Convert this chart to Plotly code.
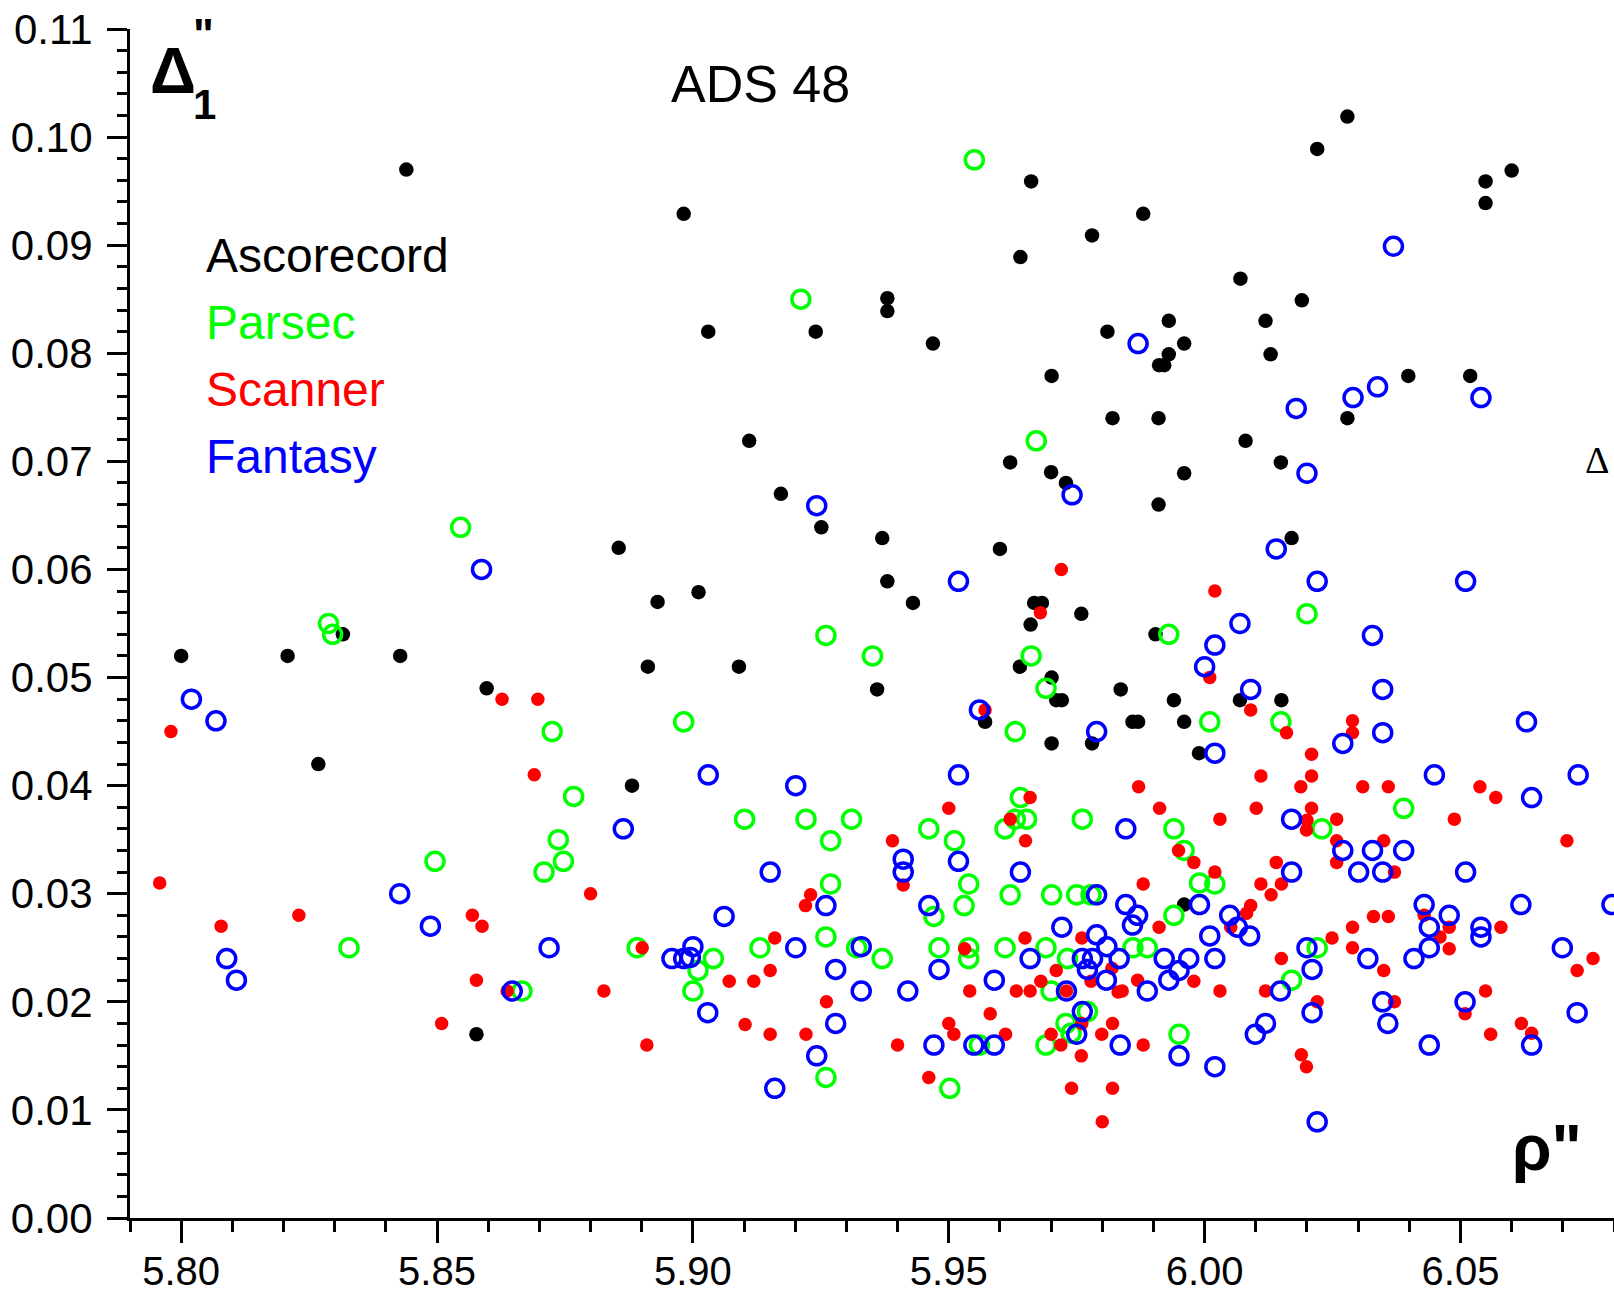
import plotly.graph_objects as go

# ---------------- data ----------------
asc_x = [5.8000, 5.8208, 5.8316, 5.8428, 5.8268, 5.8597, 5.8577, 5.8440,
         5.8855, 5.8881, 5.8912, 5.8931, 5.8982, 5.9011, 5.9030, 5.9090, 5.9110, 5.9172,
         5.9240, 5.9251, 5.9360, 5.9370, 5.9380, 5.9380, 5.9380, 5.9430, 5.9469,
         5.9571, 5.9600, 5.9620, 5.9639, 5.9640, 5.9661, 5.9660, 5.9667, 5.9682, 5.9700,
         5.9701, 5.9701, 5.9701, 5.9710, 5.9721, 5.9729, 5.9759, 5.9780, 5.9780, 5.9810,
         5.9820, 5.9836, 5.9859, 5.9870, 5.9880, 5.9904, 5.9910, 5.9910, 5.9911, 5.9921,
         5.9930, 5.9930, 5.9940, 5.9960, 5.9960, 5.9960, 5.9960, 5.9989, 6.0069, 6.0070,
         6.0080, 6.0119, 6.0129, 6.0149, 6.0150, 6.0170, 6.0190, 6.0220, 6.0279, 6.0279,
         6.0398, 6.0519, 6.0549, 6.0549, 6.0600]
asc_y = [0.0520, 0.0520, 0.0540, 0.0520, 0.0420, 0.0490, 0.0170, 0.0970,
         0.0620, 0.0400, 0.0510, 0.0570, 0.0929, 0.0579, 0.0820, 0.0510, 0.0719, 0.0670,
         0.0820, 0.0639, 0.0489, 0.0629, 0.0851, 0.0839, 0.0589, 0.0569, 0.0809,
         0.0459, 0.0619, 0.0699, 0.0510, 0.0889, 0.0959, 0.0549, 0.0569, 0.0569, 0.0690,
         0.0779, 0.0500, 0.0439, 0.0479, 0.0479, 0.0680, 0.0559, 0.0909, 0.0439, 0.0820,
         0.0740, 0.0489, 0.0459, 0.0459, 0.0929, 0.0540, 0.0740, 0.0660, 0.0789, 0.0789,
         0.0830, 0.0799, 0.0479, 0.0809, 0.0689, 0.0459, 0.0290, 0.0430, 0.0479, 0.0869,
         0.0719, 0.0830, 0.0799, 0.0699, 0.0479, 0.0629, 0.0849, 0.0989, 0.1019, 0.0740,
         0.0779, 0.0779, 0.0959, 0.0939, 0.0969]

par_x = [5.8288, 5.8296, 5.8328, 5.8496, 5.8546, 5.8666, 5.8725, 5.8767, 5.8737, 5.8747, 5.8709,
         5.8891, 5.8982, 5.9000, 5.9010, 5.9040, 5.9101, 5.9131, 5.9211, 5.9221, 5.9260, 5.9260,
         5.9260, 5.9269, 5.9269, 5.9310, 5.9320, 5.9351, 5.9370, 5.9461, 5.9471, 5.9481, 5.9502,
         5.9511, 5.9530, 5.9539, 5.9539, 5.9539, 5.9550, 5.9560, 5.9610, 5.9610, 5.9620, 5.9630,
         5.9630, 5.9640, 5.9652, 5.9661, 5.9671, 5.9690, 5.9690, 5.9690, 5.9700, 5.9701, 5.9729,
         5.9732, 5.9739, 5.9750, 5.9761, 5.9771, 5.9778,
         5.9860, 5.9888, 5.9930, 5.9940, 5.9940, 5.9950, 5.9960, 5.9990, 6.0010, 6.0020, 6.0149,
         6.0170, 6.0200, 6.0220, 6.0229, 6.0389]
par_y = [0.0550, 0.0540, 0.0250, 0.0330, 0.0639, 0.0210, 0.0450, 0.0390, 0.0350, 0.0330, 0.0320,
         0.0250, 0.0459, 0.0210, 0.0229, 0.0240, 0.0369, 0.0250, 0.0850, 0.0369, 0.0539, 0.0260,
         0.0130, 0.0349, 0.0309, 0.0369, 0.0250, 0.0520, 0.0240, 0.0360, 0.0279, 0.0250, 0.0120,
         0.0349, 0.0289, 0.0309, 0.0250, 0.0240, 0.0979, 0.0160, 0.0360, 0.0250, 0.0299, 0.0450,
         0.0369, 0.0389, 0.0369, 0.0520, 0.0719, 0.0490, 0.0250, 0.0160, 0.0210, 0.0299, 0.0180,
         0.0240, 0.0171, 0.0299, 0.0369, 0.0191, 0.0299,
         0.0250, 0.0250, 0.0540, 0.0360, 0.0280, 0.0170, 0.0340, 0.0310, 0.0459, 0.0309, 0.0459,
         0.0220, 0.0559, 0.0250, 0.0360, 0.0379]

scn_x = [5.7980, 5.7958, 5.8078, 5.8230, 5.8509, 5.8569, 5.8588, 5.8577, 5.8627, 5.8697, 5.8690,
         5.8800, 5.8826, 5.8637,
         5.8901, 5.8910, 5.9071, 5.9102, 5.9119, 5.9151, 5.9151, 5.9160, 5.9220, 5.9221, 5.9230,
         5.9261, 5.9390, 5.9400, 5.9411, 5.9461, 5.9500, 5.9500, 5.9510, 5.9531, 5.9541, 5.9571,
         5.9581, 5.9611, 5.9620, 5.9632, 5.9649, 5.9650, 5.9659, 5.9659, 5.9679, 5.9680, 5.9700,
         5.9710, 5.9719, 5.9720, 5.9730, 5.9740, 5.9759, 5.9760, 5.9760, 5.9778, 5.9799, 5.9800,
         5.9819, 5.9820, 5.9820, 5.9831,
         5.9839, 5.9869, 5.9871, 5.9880, 5.9880, 5.9911, 5.9912, 5.9949, 5.9979, 5.9979, 6.0010,
         6.0020, 6.0020, 6.0030, 6.0030, 6.0051, 6.0082, 6.0090, 6.0090, 6.0101, 6.0110, 6.0110,
         6.0119, 6.0130, 6.0140, 6.0150, 6.0150, 6.0160, 6.0188, 6.0189, 6.0199, 6.0199, 6.0200,
         6.0209, 6.0209, 6.0209, 6.0220, 6.0249, 6.0258, 6.0258, 6.0258, 6.0289, 6.0289, 6.0289,
         6.0289, 6.0309, 6.0330, 6.0350, 6.0350, 6.0359, 6.0359, 6.0371, 6.0371, 6.0429, 6.0460,
         6.0478, 6.0478, 6.0488, 6.0509, 6.0538, 6.0549, 6.0559, 6.0569, 6.0579, 6.0619, 6.0639,
         6.0708, 6.0728, 6.0759]
scn_y = [0.0450, 0.0310, 0.0270, 0.0280, 0.0180, 0.0280, 0.0270, 0.0220, 0.0480, 0.0480, 0.0410,
         0.0300, 0.0210, 0.0210,
         0.0250, 0.0160, 0.0219, 0.0179, 0.0219, 0.0229, 0.0170, 0.0259, 0.0289, 0.0170, 0.0299,
         0.0200, 0.0349, 0.0160, 0.0308, 0.0130, 0.0379, 0.0180, 0.0170, 0.0249, 0.0210, 0.0470,
         0.0189, 0.0170, 0.0369, 0.0210, 0.0259, 0.0349, 0.0389, 0.0210, 0.0560, 0.0219, 0.0170,
         0.0229, 0.0160, 0.0600, 0.0210, 0.0120, 0.0150, 0.0259, 0.0180, 0.0219, 0.0170, 0.0089,
         0.0231, 0.0180, 0.0120, 0.0209,
         0.0210, 0.0220, 0.0399, 0.0309, 0.0160, 0.0269, 0.0379, 0.0340, 0.0329, 0.0219, 0.0500,
         0.0580, 0.0320, 0.0369, 0.0210, 0.0269, 0.0282, 0.0470, 0.0289, 0.0379, 0.0409, 0.0309,
         0.0210, 0.0299, 0.0329, 0.0309, 0.0240, 0.0449, 0.0399, 0.0151, 0.0359, 0.0140, 0.0368,
         0.0429, 0.0409, 0.0379, 0.0200, 0.0259, 0.0369, 0.0349, 0.0329, 0.0460, 0.0449, 0.0269,
         0.0250, 0.0399, 0.0279, 0.0349, 0.0229, 0.0399, 0.0279, 0.0320, 0.0200, 0.0280, 0.0260,
         0.0269, 0.0249, 0.0369, 0.0189, 0.0399, 0.0210, 0.0170, 0.0389, 0.0269, 0.0180, 0.0171,
         0.0349, 0.0229, 0.0240]

fan_x = [5.8020, 5.8068, 5.8089, 5.8108, 5.8427, 5.8487, 5.8587, 5.8647, 5.8719, 5.8864,
         5.8959, 5.8982, 5.8995, 5.9000, 5.9029, 5.9030, 5.9061, 5.9151, 5.9160, 5.9201, 5.9201,
         5.9242, 5.9242, 5.9260, 5.9279, 5.9279, 5.9329, 5.9329, 5.9411, 5.9411, 5.9420, 5.9461,
         5.9471, 5.9481, 5.9519, 5.9519, 5.9519, 5.9549, 5.9560, 5.9589, 5.9589, 5.9640, 5.9659,
         5.9721, 5.9730, 5.9741, 5.9750, 5.9761, 5.9761, 5.9771, 5.9781, 5.9789, 5.9789, 5.9789,
         5.9808, 5.9809, 5.9835,
         5.9833, 5.9846, 5.9846, 5.9859, 5.9869, 5.9870, 5.9888, 5.9921, 5.9930, 5.9950, 5.9950,
         5.9969, 5.9990, 6.0000, 6.0010, 6.0020, 6.0020, 6.0020, 6.0020, 6.0049, 6.0064, 6.0069,
         6.0088, 6.0090, 6.0099, 6.0119, 6.0140, 6.0148, 6.0170, 6.0170, 6.0179, 6.0200, 6.0200,
         6.0210, 6.0210, 6.0220, 6.0220, 6.0270, 6.0270, 6.0290, 6.0301, 6.0319, 6.0328, 6.0328,
         6.0338, 6.0348, 6.0348, 6.0348, 6.0348, 6.0358, 6.0369, 6.0389, 6.0409, 6.0429, 6.0439,
         6.0439, 6.0439, 6.0449, 6.0478, 6.0509, 6.0510, 6.0510, 6.0540, 6.0540, 6.0540, 6.0618,
         6.0629, 6.0639, 6.0639, 6.0699, 6.0728, 6.0730, 6.0796]
fan_y = [0.0480, 0.0460, 0.0240, 0.0220, 0.0300, 0.0270, 0.0600, 0.0210, 0.0250, 0.0360,
         0.0240, 0.0240, 0.0241, 0.0251, 0.0190, 0.0410, 0.0279, 0.0320, 0.0120, 0.0400, 0.0250,
         0.0659, 0.0150, 0.0289, 0.0230, 0.0180, 0.0251, 0.0210, 0.0332, 0.0320, 0.0210, 0.0289,
         0.0160, 0.0230, 0.0589, 0.0410, 0.0330, 0.0160, 0.0470, 0.0220, 0.0160, 0.0320, 0.0240,
         0.0269, 0.0210, 0.0669, 0.0170, 0.0240, 0.0191, 0.0230, 0.0240, 0.0450, 0.0299, 0.0262,
         0.0220, 0.0251, 0.0160,
         0.0240, 0.0360, 0.0290, 0.0271, 0.0280, 0.0809, 0.0210, 0.0240, 0.0220, 0.0229, 0.0150,
         0.0240, 0.0290, 0.0510, 0.0261, 0.0530, 0.0430, 0.0240, 0.0140, 0.0280, 0.0269, 0.0550,
         0.0261, 0.0489, 0.0170, 0.0180, 0.0619, 0.0210, 0.0369, 0.0320, 0.0749, 0.0689, 0.0250,
         0.0230, 0.0190, 0.0589, 0.0089, 0.0439, 0.0340, 0.0759, 0.0320, 0.0240, 0.0539, 0.0340,
         0.0769, 0.0489, 0.0449, 0.0320, 0.0200, 0.0180, 0.0899, 0.0340, 0.0240, 0.0290, 0.0269,
         0.0250, 0.0160, 0.0410, 0.0280, 0.0200, 0.0589, 0.0320, 0.0759, 0.0269, 0.0260, 0.0290,
         0.0459, 0.0389, 0.0160, 0.0250, 0.0190, 0.0410, 0.0290]

x_range = [5.79, 6.08]
y_range = [0.0, 0.11]

# ---------------- figure ----------------
W, H = 1614, 1297
ML, MR, MT, MB = 130, 0, 29, 79
PW, PH = W - ML - MR, H - MT - MB

fig = go.Figure()
fig.add_trace(go.Scatter(x=asc_x, y=asc_y, mode="markers", name="Ascorecord",
                         marker=dict(symbol="circle", size=14.5, color="#000000", line=dict(width=0))))
fig.add_trace(go.Scatter(x=par_x, y=par_y, mode="markers", name="Parsec",
                         marker=dict(symbol="circle-open", size=18, color="#00ff00",
                                     line=dict(width=3.5, color="#00ff00"))))
fig.add_trace(go.Scatter(x=scn_x, y=scn_y, mode="markers", name="Scanner",
                         marker=dict(symbol="circle", size=13.5, color="#ff0000", line=dict(width=0))))
fig.add_trace(go.Scatter(x=fan_x, y=fan_y, mode="markers", name="Fantasy",
                         marker=dict(symbol="circle-open", size=18, color="#0000ff",
                                     line=dict(width=3.5, color="#0000ff"))))

FONT = "Liberation Sans, Arial, sans-serif"


def px2paper(px, py):
    return (px - ML) / PW, (H - MB - py) / PH


def label(text, px, baseline, size, color="#000000", bold=False, xanchor="left", family=FONT):
    cx, cy = px2paper(px, baseline - 0.35 * size)
    t = f"<b>{text}</b>" if bold else text
    fig.add_annotation(x=cx, y=cy, xref="paper", yref="paper", text=t, showarrow=False,
                       xanchor=xanchor, yanchor="middle",
                       font=dict(family=family, size=size, color=color), borderpad=0)


label("ADS 48", 760, 102, 52, xanchor="center")
label("Ascorecord", 205, 272, 48, color="#000000")
label("Parsec", 205, 339, 48, color="#00ff00")
label("Scanner", 205, 406, 48, color="#ff0000")
label("Fantasy", 205, 473, 48, color="#0000ff")
label("Δ", 173, 93, 64, bold=True, xanchor="center")
label("1", 204, 119, 42, bold=True, xanchor="center")
label('"', 203, 50, 44, bold=True, xanchor="center")
label('ρ"', 1511, 1170, 64, bold=True, xanchor="left")
label("Δ", 1597, 473, 38, xanchor="center", family="Liberation Serif, Times New Roman, serif")

axis_common = dict(showline=True, linecolor="#000000", linewidth=3, mirror=False,
                   ticks="outside", tickcolor="#000000", tickwidth=3, automargin=False,
                   showgrid=False, zeroline=False, tickformat=".2f")

fig.update_layout(
    template="none",
    width=W, height=H, autosize=False,
    margin=dict(l=ML, r=MR, t=MT, b=MB, pad=0),
    paper_bgcolor="#ffffff", plot_bgcolor="#ffffff",
    showlegend=False,
    xaxis=dict(range=x_range, tick0=5.80, dtick=0.05, ticklen=22, ticklabelstandoff=-6,
               tickfont=dict(family=FONT, size=40, color="#000000"),
               minor=dict(ticks="outside", dtick=0.01, tick0=5.79, ticklen=11, tickwidth=3,
                          tickcolor="#000000", showgrid=False),
               **axis_common),
    yaxis=dict(range=y_range, tick0=0, dtick=0.01, ticklen=20, ticklabelstandoff=6,
               tickfont=dict(family=FONT, size=42, color="#000000"),
               minor=dict(ticks="outside", dtick=0.002, tick0=0, ticklen=10, tickwidth=3,
                          tickcolor="#000000", showgrid=False),
               **axis_common),
)

fig.write_html("out.html", config={"displayModeBar": False},
               post_script="document.body.style.margin='0';document.body.style.overflow='hidden';")
